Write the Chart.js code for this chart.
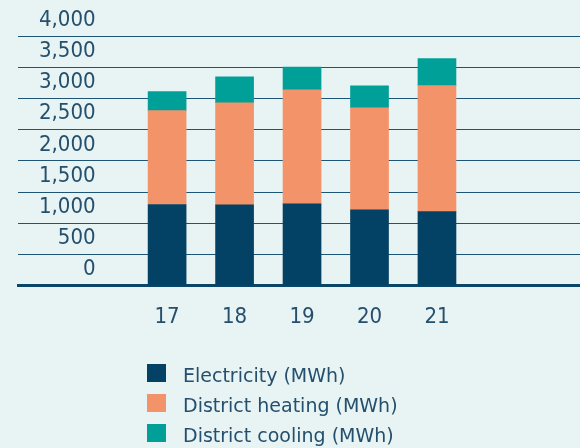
<!DOCTYPE html>
<html>
<head>
<meta charset="utf-8">
<script src="https://cdn.jsdelivr.net/npm/chart.js@4.4.1/dist/chart.umd.min.js"></script>
<style>
  html, body { margin: 0; padding: 0; background: #e8f3f3; }
  #wrap { position: relative; width: 580px; height: 448px; }
  #legend {
    position: absolute; left: 147px; top: 364px;
    margin: 0; padding: 0; list-style: none;
    font: 19px 'DejaVu Sans', sans-serif; color: #24506d;
  }
  #legend li { display: flex; align-items: flex-start; height: 30px; }
  #legend .box { width: 19px; height: 18px; margin-right: 17px; flex: none; }
  #legend .txt { line-height: 18px; padding-top: 2px; white-space: nowrap; }
</style>
</head>
<body>
<div id="wrap">
  <canvas id="chart" width="580" height="448"></canvas>
  <ul id="legend"></ul>
</div>
<script>
  // values (MWh)
  const years = [17, 18, 19, 20, 21];
  const electricity = [1300, 1295, 1310, 1215, 1185];
  const districtHeating = [1505, 1635, 1827, 1635, 2020];
  const districtCooling = [305, 415, 363, 350, 435];
  const yTickValues = [0, 500, 1000, 1500, 2000, 2500, 3000, 3500, 4000];

  const seriesLabels = ['Electricity (MWh)', 'District heating (MWh)', 'District cooling (MWh)'];
  const seriesColors = ['#034264', '#f39369', '#00a099'];

  const textColor = '#24506d';
  const tickFont = { family: "'DejaVu Sans Condensed', 'DejaVu Sans', sans-serif", size: 22 };

  const chart = new Chart(document.getElementById('chart'), {
    type: 'bar',
    data: {
      datasets: [electricity, districtHeating, districtCooling].map((vals, i) => ({
        label: seriesLabels[i],
        data: years.map((yr, j) => ({ x: yr, y: vals[j] })),
        backgroundColor: seriesColors[i],
        borderWidth: 0,
        barThickness: 38
      }))
    },
    options: {
      responsive: false,
      animation: false,
      devicePixelRatio: 1,
      layout: { padding: { left: 18, right: 0, top: 36, bottom: 100 } },
      plugins: {
        legend: { display: false },
        tooltip: { enabled: false }
      },
      scales: {
        x: {
          type: 'linear',
          stacked: true,
          offset: false,
          bounds: 'data',
          min: 14.79,
          max: 23.12,
          afterBuildTicks: s => { s.ticks = years.map(v => ({ value: v })); },
          grid: { display: false, drawTicks: false, offset: false },
          border: { display: true, color: '#0b4668', width: 3 },
          ticks: { font: tickFont, color: textColor, padding: 18, callback: v => String(v) }
        },
        y: {
          stacked: true,
          min: 0,
          max: 4000,
          afterBuildTicks: s => { s.ticks = yTickValues.map(v => ({ value: v })); },
          afterFit: s => { s.width = 0; },
          grid: { color: '#1e5577', lineWidth: 1, drawTicks: false },
          border: { display: false },
          ticks: {
            mirror: true,
            crossAlign: 'far',
            padding: 21,
            labelOffset: -16,
            font: tickFont,
            color: textColor,
            callback: v => v.toLocaleString('en-US')
          }
        }
      }
    }
  });

  /* legend, one entry per row, built from the datasets */
  const legendEl = document.getElementById('legend');
  chart.data.datasets.forEach(ds => {
    const li = document.createElement('li');
    const box = document.createElement('span');
    box.className = 'box';
    box.style.background = ds.backgroundColor;
    const txt = document.createElement('span');
    txt.className = 'txt';
    txt.textContent = ds.label;
    li.appendChild(box);
    li.appendChild(txt);
    legendEl.appendChild(li);
  });
</script>
</body>
</html>
